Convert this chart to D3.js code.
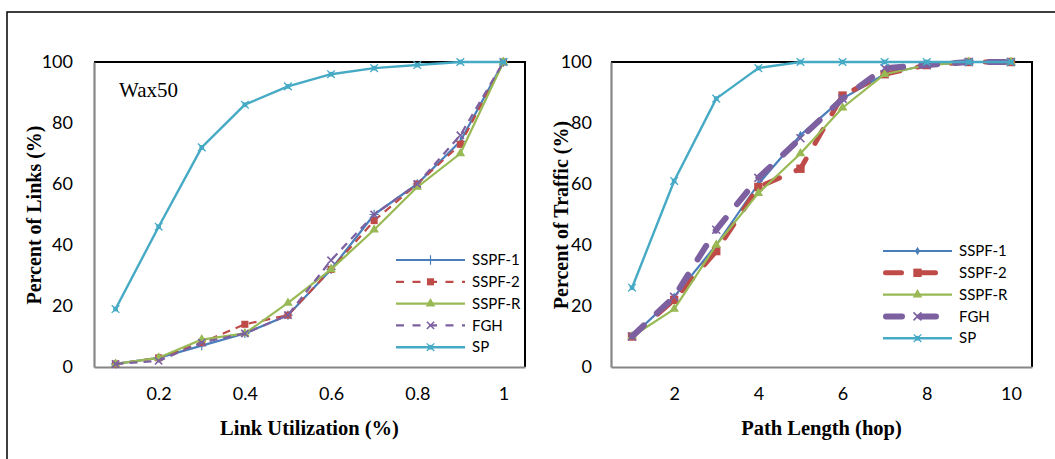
<!DOCTYPE html>
<html><head><meta charset="utf-8">
<script src="https://cdn.jsdelivr.net/npm/d3@7"></script>
<style>body{margin:0;background:#fff}svg{display:block}</style>
</head><body>
<svg id="c" width="1055" height="459"></svg>
<script>
// ---- data ----
const utilCats = [0.1,0.2,0.3,0.4,0.5,0.6,0.7,0.8,0.9,1];
const utilTicks = [0.2,0.4,0.6,0.8,1];
const links_SSPF1 = [1,3,7,11,17,32,50,60,74,100];
const links_SSPF2 = [1,3,8,14,17,32,48,60,73,100];
const links_SSPFR = [1,3,9,11,21,32,45,59,70,100];
const links_FGH   = [1,2,8,11,17,35,50,60,76,100];
const links_SP    = [19,46,72,86,92,96,98,99,100,100];

const hopCats = [1,2,3,4,5,6,7,8,9,10];
const hopTicks = [2,4,6,8,10];
const traffic_SSPF1 = [10,23,40,60,76,88,96,99,100,100];
const traffic_SSPF2 = [10,22,38,59,65,89,96,99,100,100];
const traffic_SSPFR = [10,19,40,57,70,85,96,99,100,100];
const traffic_FGH   = [10,23,45,62,75,88,98,99,100,100];
const traffic_SP    = [26,61,88,98,100,100,100,100,100,100];

const yTicks = [0,20,40,60,80,100];
const seriesNames = ["SSPF-1","SSPF-2","SSPF-R","FGH","SP"];

// ---- styles ----
const colors = {"SSPF-1":"#4A7EBB","SSPF-2":"#BE4B48","SSPF-R":"#98B954","FGH":"#7D60A0","SP":"#46AAC5"};
const tickFont = "Lato, 'Open Sans', sans-serif";
const serif = "'Liberation Serif', 'Times New Roman', serif";

const svg = d3.select("#c");
// outer frame
svg.append("rect").attr("x",7).attr("y",12).attr("width",1100).attr("height",500)
  .attr("fill","none").attr("stroke","#000").attr("stroke-width",1.5);

function marker(g, type, x, y, color, big){
  const s = big ? 1.2 : 1;
  if(type==="plus"){
    g.append("path").attr("d",d3.symbol(d3.symbolPlus, 30*s)()).attr("transform",`translate(${x},${y})`)
     .attr("stroke",color).attr("stroke-width",1.2).attr("fill","none");
  } else if(type==="diamond"){
    g.append("path").attr("d",d3.symbol(d3.symbolDiamond, 22*s)()).attr("transform",`translate(${x},${y})`).attr("fill",color);
  } else if(type==="square"){
    g.append("path").attr("d",d3.symbol(d3.symbolSquare, big?70:50)()).attr("transform",`translate(${x},${y})`).attr("fill",color);
  } else if(type==="triangle"){
    g.append("path").attr("d",d3.symbol(d3.symbolTriangle, 40*s)()).attr("transform",`translate(${x},${y})`).attr("fill",color);
  } else if(type==="x"){
    g.append("path").attr("d",d3.symbol(d3.symbolTimes, 36*s)()).attr("transform",`translate(${x},${y})`)
     .attr("stroke",color).attr("stroke-width",1.6).attr("fill","none");
  } else if(type==="star"){
    g.append("path").attr("d",d3.symbol(d3.symbolSquare, 22)()).attr("transform",`translate(${x},${y})`).attr("fill",color);
    g.append("path").attr("d",d3.symbol(d3.symbolTimes, 40)()).attr("transform",`translate(${x},${y})`)
     .attr("stroke",color).attr("stroke-width",1.3).attr("fill","none");
  }
}

function chart(cfg){
  const x = d3.scaleLinear().domain(cfg.xDomain).range([cfg.left, cfg.right]);
  const y = d3.scaleLinear().domain([0,100]).range([367,62]);
  const g = svg.append("g");
  // top and right border
  g.append("path").attr("d",`M${cfg.left},62H${cfg.right}V367`).attr("fill","none").attr("stroke","#000").attr("stroke-width",2);
  // axes
  const xa = g.append("g").attr("transform","translate(0,367)")
    .call(d3.axisBottom(x).tickValues(cfg.ticks).tickSize(0).tickPadding(20).tickFormat(d3.format("")));
  xa.select(".domain").attr("stroke","#868686").attr("stroke-width",2.2);
  xa.selectAll("text").attr("font-family",tickFont).attr("font-size",18).attr("fill","#000");
  const ya = g.append("g").attr("transform",`translate(${cfg.left},0)`)
    .call(d3.axisLeft(y).tickValues(yTicks).tickSize(0).tickPadding(cfg.yPad));
  ya.select(".domain").attr("stroke","#868686").attr("stroke-width",2.2);
  ya.selectAll("text").attr("font-family",tickFont).attr("font-size",18).attr("fill","#000");

  // titles
  svg.append("text").attr("x",(cfg.left+cfg.right)/2).attr("y",435).attr("text-anchor","middle")
    .attr("font-family",serif).attr("font-weight","bold").attr("font-size",20.5).text(cfg.xTitle);
  svg.append("text").attr("transform",`translate(${cfg.yTitleX},215) rotate(-90)`).attr("text-anchor","middle")
    .attr("dy","0.35em").attr("font-family",serif).attr("font-weight","bold").attr("font-size",20).text(cfg.yTitle);

  const line = d3.line().x((d,i)=>x(cfg.cats[i])).y(d=>y(d));
  cfg.series.forEach(s=>{
    g.append("path").datum(s.values).attr("d",line).attr("fill","none")
      .attr("stroke",colors[s.name]).attr("stroke-width",s.width)
      .attr("stroke-dasharray",s.dash||null).attr("stroke-linecap",s.cap||"butt")
      .attr("stroke-linejoin","round");
    s.values.forEach((v,i)=>marker(g,s.marker,x(cfg.cats[i]),y(v),colors[s.name],s.big));
  });

  // legend
  const lg = svg.append("g");
  cfg.series.forEach((s,i)=>{
    const ly = cfg.legY + i*21.8;
    const x0 = cfg.legX, x1 = cfg.legX+69;
    lg.append("line").attr("x1",x0+(s.cap==="round"?s.width/2:0)).attr("x2",x1-(s.cap==="round"?s.width/2:0)).attr("y1",ly).attr("y2",ly)
      .attr("stroke",colors[s.name]).attr("stroke-width",s.width)
      .attr("stroke-dasharray",s.legDash||s.dash||null).attr("stroke-linecap",s.cap||"butt");
    marker(lg,s.marker,(x0+x1)/2,ly,colors[s.name],s.big);
    lg.append("text").attr("x",x1+7).attr("y",ly).attr("dy","0.35em")
      .attr("font-family",tickFont).attr("font-size",15).text(s.name);
  });
}

chart({
  xDomain:[0.05,1.05], left:94, right:525, cats:utilCats, ticks:utilTicks, yPad:21,
  xTitle:"Link Utilization (%)", yTitle:"Percent of Links (%)", yTitleX:34,
  legX:396, legY:260,
  series:[
    {name:"SSPF-1", values:links_SSPF1, width:2.2, marker:"plus"},
    {name:"SSPF-2", values:links_SSPF2, width:2.2, marker:"square", dash:"8,6", legDash:"8,8.5"},
    {name:"SSPF-R", values:links_SSPFR, width:2.2, marker:"triangle"},
    {name:"FGH", values:links_FGH, width:2.2, marker:"x", dash:"8,6", legDash:"8,8.5"},
    {name:"SP", values:links_SP, width:2.4, marker:"star"}
  ]
});
svg.append("text").attr("x",119).attr("y",97).attr("font-family",serif).attr("font-size",21).text("Wax50");

chart({
  xDomain:[0.5,10.5], left:611, right:1032, cats:hopCats, ticks:hopTicks, yPad:19,
  xTitle:"Path Length (hop)", yTitle:"Percent of Traffic (%)", yTitleX:561,
  legX:883, legY:251,
  series:[
    {name:"SSPF-1", values:traffic_SSPF1, width:2.2, marker:"diamond"},
    {name:"SSPF-2", values:traffic_SSPF2, width:5, marker:"square", dash:"16,18", cap:"round", big:true},
    {name:"SSPF-R", values:traffic_SSPFR, width:2.2, marker:"triangle"},
    {name:"FGH", values:traffic_FGH, width:6, marker:"x", dash:"16,18", cap:"round", big:true},
    {name:"SP", values:traffic_SP, width:2.4, marker:"star"}
  ]
});
</script>
</body></html>
